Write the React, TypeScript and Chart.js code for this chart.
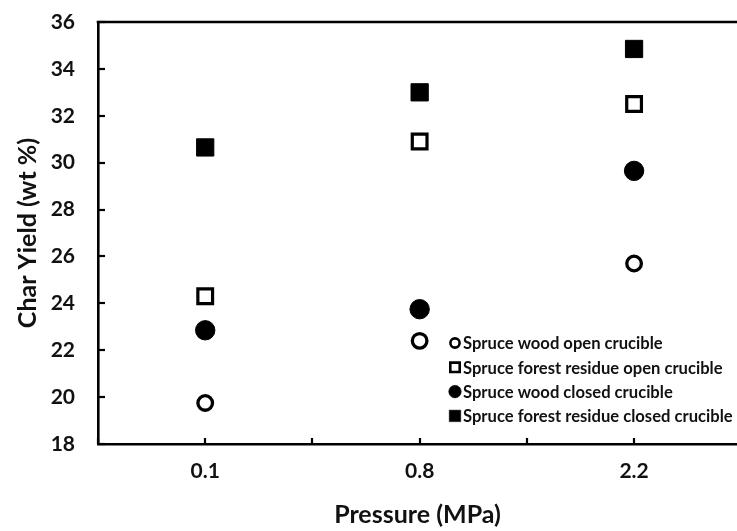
import React, { useEffect, useRef } from 'react';
import { Chart, registerables } from 'chart.js';

Chart.register(...registerables);

const categories = ['0.1', '0.8', '2.2'];
const seriesNames = [
  'Spruce wood open crucible',
  'Spruce forest residue open crucible',
  'Spruce wood closed crucible',
  'Spruce forest residue closed crucible',
];
const spruceWoodOpen = [19.75, 22.4, 25.7];
const spruceResidueOpen = [24.3, 30.9, 32.5];
const spruceWoodClosed = [22.85, 23.75, 29.65];
const spruceResidueClosed = [30.65, 33.0, 34.85];
const yMin = 18;
const yMax = 36;
const yStep = 2;

const FONT = 'Lato, "Open Sans", sans-serif';

const toPoints = (vals: number[]) => vals.map((y, i) => ({ x: i, y }));

const innerTicksAndFrame = {
  id: 'innerTicksAndFrame',
  afterDraw(chart: any) {
    const { ctx, chartArea } = chart;
    const xs = chart.scales.x;
    const ys = chart.scales.y;
    ctx.save();
    ctx.strokeStyle = '#000';
    ctx.lineWidth = 2.2;
    ys.ticks.forEach((t: any) => {
      const py = Math.round(ys.getPixelForValue(t.value));
      ctx.beginPath();
      ctx.moveTo(chartArea.left, py);
      ctx.lineTo(chartArea.left + 7, py);
      ctx.stroke();
    });
    xs.ticks.forEach((t: any) => {
      const px = Math.round(xs.getPixelForValue(t.value));
      ctx.beginPath();
      ctx.moveTo(px, chartArea.bottom);
      ctx.lineTo(px, chartArea.bottom - 6);
      ctx.stroke();
    });
    ctx.lineWidth = 2.6;
    ctx.beginPath();
    ctx.moveTo(chartArea.left - 1.3, chartArea.top);
    ctx.lineTo(chart.width, chartArea.top);
    ctx.stroke();
    ctx.restore();
  },
};

const insideLegend = {
  id: 'insideLegend',
  afterDraw(chart: any) {
    const { ctx } = chart;
    const mx = 455;
    const y0 = 343;
    const rowH = 24.3;
    ctx.save();
    ctx.font = `bold 16.6px ${FONT}`;
    ctx.textBaseline = 'middle';
    ctx.textAlign = 'left';
    chart.data.datasets.forEach((ds: any, i: number) => {
      const cy = y0 + i * rowH;
      const filled = ds.backgroundColor === '#000';
      ctx.fillStyle = ds.backgroundColor;
      ctx.strokeStyle = '#000';
      ctx.beginPath();
      if (ds.pointStyle === 'circle') {
        const r = filled ? 6.3 : 4.6;
        ctx.arc(mx, cy, r, 0, Math.PI * 2);
      } else {
        const s = filled ? 11.5 : 9.4;
        ctx.rect(mx - s / 2, cy - s / 2, s, s);
      }
      ctx.fill();
      ctx.lineWidth = filled ? 0.5 : 2.6;
      ctx.stroke();
      ctx.fillStyle = '#111';
      ctx.fillText(ds.label, 463, cy + 1);
    });
    ctx.restore();
  },
};

export default function App() {
  const canvasRef = useRef<HTMLCanvasElement | null>(null);

  useEffect(() => {
    if (!canvasRef.current) return;
    const chart = new Chart(canvasRef.current, {
      type: 'scatter',
      data: {
        datasets: [
          {
            label: seriesNames[0],
            data: toPoints(spruceWoodOpen),
            pointStyle: 'circle',
            pointRadius: 7.3,
            pointBorderWidth: 3.3,
            backgroundColor: '#fff',
            borderColor: '#000',
          },
          {
            label: seriesNames[1],
            data: toPoints(spruceResidueOpen),
            pointStyle: 'rect',
            pointRadius: 10.4,
            pointBorderWidth: 3.2,
            backgroundColor: '#fff',
            borderColor: '#000',
          },
          {
            label: seriesNames[2],
            data: toPoints(spruceWoodClosed),
            pointStyle: 'circle',
            pointRadius: 9.7,
            pointBorderWidth: 1,
            backgroundColor: '#000',
            borderColor: '#000',
          },
          {
            label: seriesNames[3],
            data: toPoints(spruceResidueClosed),
            pointStyle: 'rect',
            pointRadius: 12.2,
            pointBorderWidth: 1,
            backgroundColor: '#000',
            borderColor: '#000',
          },
        ] as any,
      },
      options: {
        animation: false,
        responsive: false,
        maintainAspectRatio: false,
        devicePixelRatio: 1,
        layout: { autoPadding: false, padding: { top: 22, left: 0, right: 0, bottom: 0 } },
        plugins: {
          legend: { display: false },
          tooltip: { enabled: false },
        },
        scales: {
          x: {
            type: 'linear',
            min: -0.5,
            max: 2.48,
            afterFit: (scale: any) => {
              scale.height = 87;
              scale.paddingLeft = 0;
              scale.paddingRight = 0;
            },
            grid: { display: true, drawOnChartArea: false, drawTicks: false },
            border: { display: true, color: '#000', width: 2.6 },
            ticks: {
              stepSize: 0.5,
              includeBounds: false,
              autoSkip: false,
              maxRotation: 0,
              padding: 15,
              color: '#111',
              font: { family: FONT, size: 21, weight: 'bold' },
              callback: (v: any) => {
                const n = Number(v);
                return Number.isInteger(n) && categories[n] !== undefined ? categories[n] : '';
              },
            },
            title: {
              display: true,
              text: 'Pressure (MPa)',
              color: '#111',
              font: { family: FONT, size: 25, weight: 'bold' },
              padding: { top: 0, bottom: 1 },
            },
          },
          y: {
            min: yMin,
            max: yMax,
            afterFit: (scale: any) => {
              scale.width = 98;
              scale.paddingTop = 0;
              scale.paddingBottom = 0;
            },
            grid: { display: true, drawOnChartArea: false, drawTicks: false },
            border: { display: true, color: '#000', width: 2.6 },
            ticks: {
              stepSize: yStep,
              padding: 23,
              color: '#111',
              font: { family: FONT, size: 21, weight: 'bold' },
            },
            title: {
              display: true,
              text: 'Char Yield (wt %)',
              color: '#111',
              font: { family: FONT, size: 25, weight: 'bold' },
              padding: { top: 12.5, bottom: 0 },
            },
          },
        },
      } as any,
      plugins: [innerTicksAndFrame, insideLegend],
    });
    return () => chart.destroy();
  }, []);

  return (
    <div style={{ position: 'fixed', left: 0, top: 0, width: 737, height: 531, background: '#fff' }}>
      <canvas ref={canvasRef} width={737} height={531} style={{ display: 'block', width: 737, height: 531 }} />
    </div>
  );
}
